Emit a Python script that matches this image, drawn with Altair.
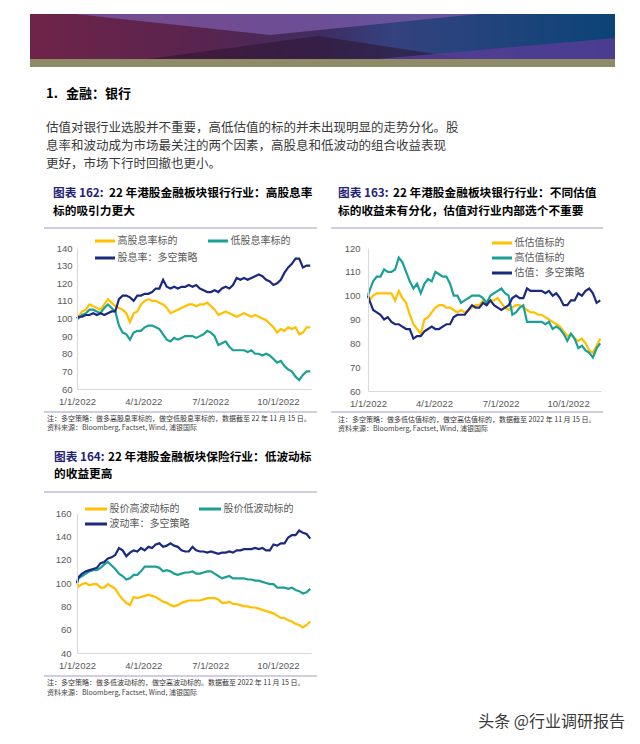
import altair as alt
import pandas as pd

CJK = "Noto Sans CJK SC"
LAT = "Liberation Sans"
YELLOW = "#FFC000"
TEAL = "#1AA096"
NAVY = "#1B2A7E"
RULE = "#A29CCB"
TITLE_NAVY = "#1F2278"

# sampling grid (days after 1 Jan 2022)
day_offsets = [0] + [2 + 5 * i for i in range(64)]
dates = [(pd.Timestamp(2022, 1, 1) + pd.Timedelta(days=d)).strftime("%Y/%m/%d") for d in day_offsets]

# ---- 图表162 ----
names162 = ["高股息率标的", "低股息率标的", "股息率：多空策略"]
high_div = [100, 101, 104, 105, 108, 107, 106, 105, 108, 111, 109,
            107, 106, 105, 103, 98, 103, 104, 108, 110, 111,
            110, 110, 109, 108, 106, 103, 104, 105, 106, 107,
            108, 108, 107, 108, 108, 109, 107, 105, 102, 103,
            104, 103, 102, 101, 102, 103, 102, 101, 102, 101,
            100, 99, 97, 95, 92, 94, 93, 95, 94, 95,
            91, 92, 95, 95]
low_div = [100, 100, 102, 103, 105, 105, 104, 103, 106, 108, 106,
           104, 96, 92, 91, 88, 92, 93, 93, 95, 96,
           96, 95, 94, 91, 88, 87, 89, 88, 89, 90,
           90, 90, 89, 90, 91, 93, 92, 90, 85, 86,
           87, 84, 82, 82, 82, 82, 81, 82, 80, 80,
           79, 80, 79, 77, 75, 76, 73, 71, 70, 67,
           65, 68, 70, 70]
ls_div = [100, 101, 101, 102, 102, 103, 102, 103, 102, 103, 104,
          104, 111, 113, 113, 112, 110, 113, 113, 114, 114,
          115, 117, 117, 122, 118, 117, 118, 117, 118, 118,
          119, 118, 119, 117, 116, 115, 115, 116, 115, 117,
          118, 117, 119, 123, 122, 123, 122, 123, 124, 125,
          124, 122, 121, 119, 120, 122, 126, 129, 131, 134,
          134, 129, 130, 130]

# ---- 图表163 ----
names163 = ["低估值标的", "高估值标的", "估值：多空策略"]
low_val = [100, 98, 100, 101, 101, 101, 101, 101, 98, 102, 99,
           97, 92, 88, 86, 84, 90, 91, 93, 95, 96,
           96, 95, 95, 94, 93, 94, 93, 94, 95, 96,
           96, 98, 97, 98, 98, 99, 97, 95, 94, 95,
           96, 96, 95, 94, 93, 93, 92, 92, 91, 90,
           89, 88, 87, 85, 83, 84, 82, 81, 82, 80,
           77, 76, 79, 82]
high_val = [100, 102, 106, 108, 108, 111, 110, 110, 111, 116, 114,
            110, 106, 103, 105, 101, 105, 107, 106, 110, 109,
            108, 108, 105, 100, 100, 97, 98, 99, 100, 100,
            100, 99, 97, 100, 101, 102, 103, 101, 100, 92,
            93, 95, 96, 89, 89, 89, 89, 89, 88, 89,
            86, 87, 86, 84, 81, 84, 82, 78, 79, 77,
            76, 74, 78, 80]
ls_val = [100, 98, 94, 93, 92, 90, 91, 89, 88, 88, 87,
          86, 86, 82, 83, 83, 85, 86, 87, 86, 86,
          87, 88, 88, 91, 92, 92, 92, 94, 96, 95,
          95, 97, 96, 98, 96, 95, 94, 95, 96, 99,
          100, 99, 99, 103, 102, 102, 102, 102, 101, 102,
          100, 101, 99, 96, 96, 98, 98, 101, 100, 102,
          103, 101, 97, 98]

# ---- 图表164 ----
names164 = ["股价高波动标的", "股价低波动标的", "波动率：多空策略"]
high_vol = [100, 97, 99, 100, 98, 99, 99, 96, 96, 99, 97,
            95, 90, 86, 83, 81, 88, 87, 88, 89, 90,
            89, 88, 86, 84, 83, 81, 80, 81, 83, 84,
            85, 85, 85, 85, 86, 87, 87, 87, 86, 83,
            83, 84, 82, 82, 81, 80, 80, 79, 79, 78,
            77, 76, 75, 74, 72, 70, 70, 68, 67, 65,
            64, 62, 64, 67]
low_vol = [100, 104, 106, 108, 110, 111, 111, 113, 116, 118, 115,
           112, 108, 106, 103, 104, 107, 107, 110, 114, 114,
           114, 114, 113, 110, 111, 110, 108, 107, 108, 109,
           109, 110, 108, 108, 109, 110, 110, 108, 106, 104,
           105, 106, 104, 104, 104, 104, 103, 103, 102, 102,
           101, 100, 99, 99, 96, 96, 96, 95, 96, 94,
           93, 91, 92, 95]
ls_vol = [100, 105, 108, 110, 111, 112, 113, 117, 118, 121, 122,
          124, 130, 128, 123, 126, 128, 127, 130, 128, 131,
          130, 133, 134, 131, 132, 134, 132, 131, 128, 127,
          127, 131, 128, 127, 127, 126, 127, 126, 125, 126,
          126, 127, 126, 128, 128, 129, 129, 129, 130, 129,
          130, 128, 128, 133, 132, 134, 134, 139, 141, 141,
          145, 143, 142, 138]

para = [
    "估值对银行业选股并不重要，高低估值的标的并未出现明显的走势分化。股",
    "息率和波动成为市场最关注的两个因素，高股息和低波动的组合收益表现",
    "更好，市场下行时回撤也更小。",
]
SOURCE = "资料来源：Bloomberg, Factset, Wind, 浦银国际"

ONE = pd.DataFrame({"k": [0]})


def txt(s, x, y, size, color="#000000", weight="normal", font=CJK, align="left"):
    return alt.Chart(ONE).mark_text(
        text=s, fontSize=size, color=color, fontWeight=weight, font=font,
        align=align, baseline="middle"
    ).encode(x=alt.value(x), y=alt.value(y))


def hrule(x1, x2, y, color=RULE, w=1.2):
    return alt.Chart(ONE).mark_rule(color=color, strokeWidth=w).encode(
        x=alt.value(x1), x2=alt.value(x2), y=alt.value(y))


def box(x1, x2, y1, y2, color):
    return alt.Chart(ONE).mark_rect(color=color).encode(
        x=alt.value(x1), x2=alt.value(x2), y=alt.value(y1), y2=alt.value(y2))


def wedge(path, color, op, ox, oy):
    return alt.Chart(ONE).mark_point(shape=path, size=4, filled=True, opacity=op,
                                     color=color, strokeWidth=0).encode(
        x=alt.value(ox), y=alt.value(oy))


def panel(names, series, ydom, yvals, w, h, ypad, lx, ly, ssize, ch, cpad, cols):
    rows = []
    for n, vals in zip(names, series):
        for d, v in zip(dates, vals):
            rows.append({"date": d, "value": v, "series": n})
    df = pd.DataFrame(rows)
    return alt.Chart(df).mark_line(strokeWidth=2.2).encode(
        x=alt.X("date:T", title=None,
                scale=alt.Scale(domain=[alt.DateTime(year=2022, month=1, date=1),
                                        alt.DateTime(year=2022, month=11, date=15)]),
                axis=alt.Axis(values=[alt.DateTime(year=2022, month=m, date=1) for m in (1, 4, 7, 10)],
                              format="%-m/%-d/%Y", grid=False, ticks=False, tickSize=0,
                              domainColor="#D9D9D9", labelColor="#595959", labelFont=LAT,
                              labelFontSize=9.5, labelPadding=7, labelFlush=False, zindex=1)),
        y=alt.Y("value:Q", title=None,
                scale=alt.Scale(domain=ydom, nice=False, zero=False),
                axis=alt.Axis(values=yvals, grid=False, ticks=False, tickSize=0,
                              domainColor="#D9D9D9", labelColor="#595959", labelFont=LAT,
                              labelFontSize=9.5, labelPadding=ypad, labelFlush=False, zindex=1)),
        color=alt.Color("series:N", scale=alt.Scale(domain=names, range=[YELLOW, TEAL, NAVY]),
                        legend=alt.Legend(title=None, orient="none", legendX=lx, legendY=ly,
                                          direction="horizontal" if cols == 2 else "vertical",
                                          columns=cols, symbolType="stroke",
                                          symbolSize=ssize, symbolStrokeWidth=3, labelFont=CJK,
                                          labelFontSize=10, labelColor="#595959", labelOffset=1,
                                          columnPadding=cpad, rowPadding=0, clipHeight=ch, padding=0)),
    ).properties(width=w, height=h)


def decorations(tx, navy_t, black_t, line2, bx, ty1, ty2, r1, r2, rtop, rbot, note, nx, ny, sy):
    return [
        txt(navy_t, tx, ty1, 11.7, TITLE_NAVY, "bold"),
        txt(black_t, bx, ty1, 11.7, "#000000", "bold"),
        txt(line2, tx, ty2, 11.7, "#000000", "bold"),
        hrule(r1, r2, rtop),
        hrule(r1, r2, rbot),
        txt(note, nx, ny, 7, "#333333"),
        txt(SOURCE, nx, sy, 7, "#444444"),
    ]


# origin of panel 162 in page-content coords: (69, 240)
OX, OY = 69, 240
page_header = [
    box(-OX, 624 - OX, -OY, 736 - OY, "#FFFFFF"),
    alt.Chart(ONE).mark_rect(
        color=alt.LinearGradient(
            gradient="linear", x1=0, x2=1, y1=0, y2=0,
            stops=[alt.GradientStop(color="#6F2449", offset=0),
                   alt.GradientStop(color="#58244F", offset=0.3),
                   alt.GradientStop(color="#3E2D62", offset=0.5),
                   alt.GradientStop(color="#34427F", offset=0.62),
                   alt.GradientStop(color="#0B4477", offset=1)])
    ).encode(x=alt.value(22 - OX), x2=alt.value(607 - OX), y=alt.value(6 - OY), y2=alt.value(51 - OY)),
    wedge("M67,6L470,6L262,27Z", "#7B5AA8", 0.75, -OX, -OY),
    wedge("M140,51L460,51L310,28Z", "#2E1533", 0.6, -OX, -OY),
    wedge("M370,51L607,51L607,30Z", "#5A3C96", 0.8, -OX, -OY),
    box(22 - OX, 607 - OX, 51 - OY, 59 - OY, "#8F8B66"),
    txt("1.", 38 - OX, 86 - OY, 13, "#000000", "bold"),
    txt("金融：银行", 58 - OX, 86 - OY, 13, "#000000", "bold"),
    txt(para[0], 38 - OX, 120 - OY, 12.5, "#3a3a3a"),
    txt(para[1], 38 - OX, 138 - OY, 12.5, "#3a3a3a"),
    txt(para[2], 38 - OX, 156 - OY, 12.5, "#3a3a3a"),
]

c162 = alt.layer(
    *page_header,
    panel(names162, [high_div, low_div, ls_div], [60, 140], list(range(60, 141, 10)),
          234, 141, 5, 16.5, -15.5, 400, 17, 9, 2),
    *decorations(-24, "图表 162:", "22 年港股金融板块银行行业：高股息率", "标的吸引力更大", 32,
                 -55, -37, -33, 240, -20, 164,
                 "注：多空策略：做多高股息率标的，做空低股息率标的，数据截至 22 年 11 月 15 日。",
                 -30, 171, 180)
)

c163 = alt.layer(
    panel(names163, [low_val, high_val, ls_val], [60, 120], list(range(60, 121, 10)),
          233, 143, 8, 122.5, -12.5, 400, 15, 9, 1),
    *decorations(-30, "图表 163:", "22 年港股金融板块银行行业：不同估值",
                 "标的收益未有分化，估值对行业内部选个不重要", 25,
                 -55, -37, -37, 235, -20, 164,
                 "注：多空策略：做多低估值标的，做空高估值标的，数据截至 2022 年 11 月 15 日。",
                 -30, 172, 181)
)

c164 = alt.layer(
    panel(names164, [high_vol, low_vol, ls_vol], [40, 160], list(range(40, 161, 20)),
          234, 140, 6, 6.5, -11.5, 484, 15, 8, 2),
    *decorations(-23, "图表 164:", "22 年港股金融板块保险行业：低波动标", "的收益更高", 31,
                 -56, -39.5, -33, 240, -21, 163,
                 "注：多空策略：做多低波动标的，做空高波动标的。数据截至 2022 年 11 月 15 日。",
                 -30, 170, 180),
    txt("头条 @行业调研报告", 548, 209, 16, "#3a3a3a", "normal", CJK, "right"),
)

chart = alt.concat(
    c162, c163, c164, columns=2, spacing={"row": 122, "column": 57}, bounds="flush"
).resolve_scale(
    x="independent", y="independent", color="independent"
).properties(padding=0).configure_view(strokeWidth=0)

chart.save("out.html", embed_options={"renderer": "svg", "actions": False})
